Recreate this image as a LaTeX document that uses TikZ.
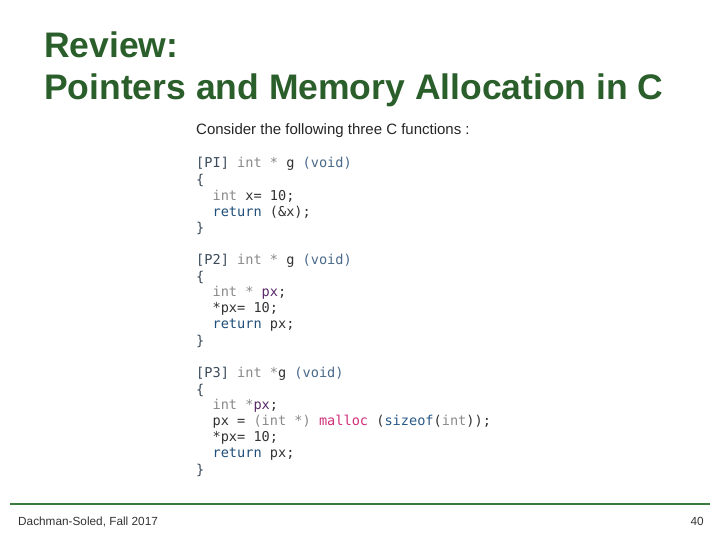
\documentclass[tikz,border=0pt]{standalone}
\usepackage{fontspec}
\setmainfont{Liberation Sans}
\newfontfamily\codefont{DejaVu Sans Mono}
\definecolor{tgreen}{HTML}{2A5E2A}
\definecolor{fgreen}{HTML}{3A7A3A}
\definecolor{kw}{HTML}{8A8A8A}
\definecolor{ret}{HTML}{1F4E79}
\definecolor{vd}{HTML}{4A6A8A}
\definecolor{br}{HTML}{3A4A5A}
\definecolor{pv}{HTML}{5A2A6A}
\definecolor{mal}{HTML}{D0307A}
\definecolor{szf}{HTML}{2A5A8A}
\newcommand{\K}[1]{\textcolor{kw}{#1}}
\newcommand{\R}[1]{\textcolor{ret}{#1}}
\newcommand{\V}[1]{\textcolor{vd}{#1}}
\newcommand{\B}[1]{\textcolor{br}{#1}}
\newcommand{\PX}[1]{\textcolor{pv}{#1}}
\begin{document}
\begin{tikzpicture}[x=1pt,y=-1pt,
  codeline/.style={anchor=west,inner sep=0pt,font=\codefont\fontsize{13.6}{15}\selectfont,text=black!80},
  titletext/.style={anchor=west,inner sep=0pt,font=\fontsize{35.5}{40}\selectfont\bfseries,text=tgreen}]
\useasboundingbox (0,0) rectangle (720,540);
\fill[white] (0,0) rectangle (720,540);
\node[titletext] (t1) at (44,45) {Review:};
\node[titletext] (t2) at (44,90) {Pointers and Memory Allocation in C};
\node[anchor=west,inner sep=0pt,font=\fontsize{15}{17}\selectfont,text=black!85] (c0) at (196,131) {Consider the following three C functions :};
\node[codeline] (a1) at (196,164) {\B{[PI]} \K{int *} g \V{(void)}};
\node[codeline] (a2) at (196,180) {\B{\{}};
\node[codeline] (a3) at (196,196) {\ \ \K{int} x= 10;};
\node[codeline] (a4) at (196,212) {\ \ \R{return} (\&x);};
\node[codeline] (a5) at (196,228) {\B{\}}};
\node[codeline] (b1) at (196,261) {\B{[P2]} \K{int *} g \V{(void)}};
\node[codeline] (b2) at (196,277) {\B{\{}};
\node[codeline] (b3) at (196,293) {\ \ \K{int *} \PX{px};};
\node[codeline] (b4) at (196,309) {\ \ *px= 10;};
\node[codeline] (b5) at (196,325) {\ \ \R{return} px;};
\node[codeline] (b6) at (196,341) {\B{\}}};
\node[codeline] (d1) at (196,374) {\B{[P3]} \K{int *}g \V{(void)}};
\node[codeline] (d2) at (196,390) {\B{\{}};
\node[codeline] (d3) at (196,406) {\ \ \K{int *}\PX{px};};
\node[codeline] (d4) at (196,422) {\ \ px = \K{(int *)} \textcolor{mal}{malloc} (\textcolor{szf}{sizeof}(\K{int}));};
\node[codeline] (d5) at (196,438) {\ \ *px= 10;};
\node[codeline] (d6) at (196,454) {\ \ \R{return} px;};
\node[codeline] (d7) at (196,470) {\B{\}}};
\draw[fgreen,line width=2.5pt] (10,504) -- (710,504);
\node[anchor=west,inner sep=0pt,font=\fontsize{11.8}{14}\selectfont,text=black!80] (f1) at (18,522) {Dachman-Soled, Fall 2017};
\node[anchor=east,inner sep=0pt,font=\fontsize{11.8}{14}\selectfont,text=black!80] (f2) at (704,521) {40};
\end{tikzpicture}
\end{document}
